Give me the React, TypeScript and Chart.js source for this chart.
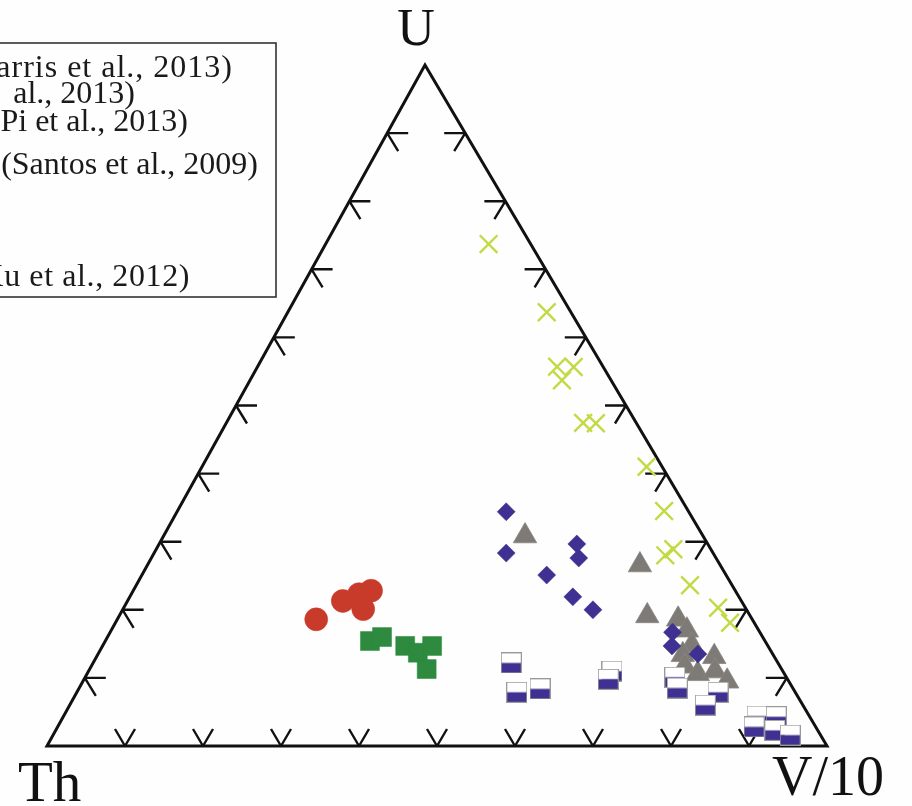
import { useEffect, useRef } from "react";
import { Chart, registerables } from "chart.js";

Chart.register(...registerables);

// Compositions as [U, Th, V/10] in percent
const crossSamples: number[][] = [
  [73.7, 5.4, 20.9], [63.7, 3.1, 33.2], [55.7, 5.9, 38.4], [55.7, 3.8, 40.6],
  [53.7, 6.3, 40.0], [47.4, 6.8, 45.7], [47.4, 5.2, 47.4], [41.0, 2.0, 57.0],
  [34.5, 3.1, 62.4], [28.0, 6.3, 65.7], [28.9, 4.8, 66.3], [23.6, 5.4, 71.0],
  [20.3, 3.5, 76.2], [18.1, 3.1, 78.8],
];

const circleSamples: number[][] = [
  [18.6, 55.9, 25.5], [21.3, 51.1, 27.6], [22.3, 48.5, 29.2], [22.8, 46.7, 30.5],
  [20.1, 49.1, 30.8],
];

const squareSamples: number[][] = [
  [15.4, 50.6, 33.9], [16.0, 48.8, 35.2], [14.7, 46.5, 38.8], [13.7, 45.4, 40.9],
  [14.7, 43.1, 42.3], [11.3, 45.5, 43.2],
];

const diamondSamples: number[][] = [
  [34.4, 23.4, 42.2], [28.3, 26.5, 45.1], [29.7, 16.8, 53.6], [27.6, 17.6, 54.8],
  [25.1, 23.0, 51.9], [21.9, 21.3, 56.8], [20.0, 19.7, 60.3], [16.7, 11.2, 72.1],
  [14.7, 12.3, 73.0], [13.5, 9.6, 76.9],
];

const triangleSamples: number[][] = [
  [30.8, 22.8, 46.3], [26.6, 10.3, 63.2], [19.1, 13.2, 67.7], [18.6, 9.5, 71.9],
  [17.0, 9.2, 73.8], [14.8, 9.7, 75.5], [13.4, 11.6, 75.1], [11.7, 12.2, 76.1],
  [10.6, 11.1, 78.3], [13.1, 7.7, 79.2], [11.0, 8.7, 80.3], [9.5, 7.9, 82.6],
];

const halfSquareSamples: number[][] = [
  [12.2, 34.2, 53.6], [11.0, 21.9, 67.1], [10.1, 14.3, 75.6], [9.8, 23.0, 67.2],
  [8.5, 14.8, 76.6], [8.4, 32.5, 59.2], [7.9, 35.7, 56.4], [7.9, 9.9, 82.2],
  [6.0, 12.5, 81.4], [4.4, 6.7, 88.9], [4.3, 4.3, 91.4], [2.8, 7.9, 89.3],
  [2.3, 5.5, 92.2], [1.6, 3.9, 94.5],
];

const vertexLabels = ["U", "Th", "V/10"];
const tickFractions = [0.1, 0.2, 0.3, 0.4, 0.5, 0.6, 0.7, 0.8, 0.9];

const legendLines = [
  "(Harris et al., 2013)",
  "al., 2013)",
  "(Pi et al., 2013)",
  "(Santos et al., 2009)",
  "(Xu et al., 2012)",
];

// Horizontal offset of the U apex along the Th–V/10 base (0..1)
const APEX_X = 0.4846;

function toXY(u: number, th: number, v: number) {
  const t = u + th + v;
  const uu = u / t;
  const vv = v / t;
  return { x: vv + uu * APEX_X, y: uu };
}

const toPoints = (rows: number[][]) => rows.map(([u, th, v]) => toXY(u, th, v));

function makeHalfSquare(): HTMLCanvasElement {
  const c = document.createElement("canvas");
  c.width = 21;
  c.height = 21;
  const g = c.getContext("2d")!;
  g.fillStyle = "#ffffff";
  g.fillRect(0.5, 0.5, 20, 10);
  g.fillStyle = "#3f3191";
  g.fillRect(0.5, 10.5, 20, 10);
  g.strokeStyle = "#9a9a9a";
  g.lineWidth = 1;
  g.strokeRect(0.5, 0.5, 20, 20);
  return c;
}

const ternaryFrame = {
  id: "ternaryFrame",
  beforeDraw(chart: any) {
    const { ctx, width, height } = chart;
    ctx.save();
    ctx.fillStyle = "#fefefe";
    ctx.fillRect(0, 0, width, height);
    ctx.restore();
  },
  beforeDatasetsDraw(chart: any) {
    const { ctx, scales } = chart;
    const px = (u: number, th: number, v: number) => {
      const p = toXY(u, th, v);
      return [scales.x.getPixelForValue(p.x), scales.y.getPixelForValue(p.y)];
    };
    const pU = px(1, 0, 0);
    const pTh = px(0, 1, 0);
    const pV = px(0, 0, 1);
    ctx.save();
    ctx.strokeStyle = "#111111";
    ctx.lineWidth = 3;
    ctx.lineJoin = "miter";
    ctx.beginPath();
    ctx.moveTo(pTh[0], pTh[1]);
    ctx.lineTo(pV[0], pV[1]);
    ctx.lineTo(pU[0], pU[1]);
    ctx.closePath();
    ctx.stroke();

    ctx.lineWidth = 2.4;
    ctx.lineCap = "butt";
    const seg = (x0: number, y0: number, x1: number, y1: number) => {
      ctx.moveTo(x0, y0);
      ctx.lineTo(x1, y1);
    };
    ctx.beginPath();
    for (const f of tickFractions) {
      // base: V/10 share
      const [bx, by] = px(0, 1 - f, f);
      seg(bx - 10, by - 17, bx, by);
      seg(bx, by, bx + 10, by - 17);
      // left side: U share along Th–U
      const [lx, ly] = px(f, 1 - f, 0);
      seg(lx + 21, ly, lx, ly);
      seg(lx, ly, lx + 11, ly + 18);
      // right side: U share along V–U
      const [rx, ry] = px(f, 0, 1 - f);
      seg(rx - 21, ry, rx, ry);
      seg(rx, ry, rx - 11, ry + 18);
    }
    ctx.stroke();

    ctx.fillStyle = "#111111";
    ctx.textBaseline = "alphabetic";
    ctx.font = "52px 'Liberation Serif', serif";
    ctx.textAlign = "center";
    ctx.fillText(vertexLabels[0], pU[0] - 9, pU[1] - 20);
    ctx.font = "57px 'Liberation Serif', serif";
    ctx.textAlign = "left";
    ctx.fillText(vertexLabels[1], pTh[0] - 29, pTh[1] + 55);
    ctx.font = "56px 'Liberation Serif', serif";
    ctx.fillText(vertexLabels[2], pV[0] - 55, pV[1] + 49);
    ctx.restore();
  },
  afterDraw(chart: any) {
    const { ctx } = chart;
    ctx.save();
    // legend frame, its left part runs past the canvas edge
    ctx.strokeStyle = "#333333";
    ctx.lineWidth = 1.6;
    ctx.strokeRect(-20, 43, 296, 254);
    ctx.fillStyle = "#1a1a1a";
    ctx.font = "32px 'Liberation Serif', serif";
    ctx.textAlign = "right";
    ctx.textBaseline = "alphabetic";
    const rightEdges = [233, 135, 188, 258, 190];
    const baselines = [77, 103, 131, 174, 286];
    const spacing = ["1px", "0px", "0px", "0px", "0.6px"];
    legendLines.forEach((t, i) => {
      ctx.letterSpacing = spacing[i];
      ctx.fillText(t, rightEdges[i], baselines[i]);
    });
    ctx.restore();
  },
};

export default function App() {
  const canvasRef = useRef<HTMLCanvasElement | null>(null);

  useEffect(() => {
    const canvas = canvasRef.current;
    if (!canvas) return;
    const halfSquare = makeHalfSquare();
    const blue = "#3f3191";

    const chart = new Chart(canvas, {
      type: "scatter",
      data: {
        datasets: [
          {
            label: "Crosses",
            data: toPoints(crossSamples),
            pointStyle: "crossRot",
            pointRadius: 12.5,
            borderColor: "#c3da44",
            backgroundColor: "#c3da44",
            pointBorderWidth: 2.4,
            order: 1,
          },
          {
            label: "Half squares",
            data: toPoints(halfSquareSamples),
            pointStyle: halfSquare as any,
            pointRadius: 10,
            order: 2,
          },
          {
            label: "Diamonds",
            data: toPoints(diamondSamples),
            pointStyle: "rectRot",
            pointRadius: 9,
            backgroundColor: blue,
            borderColor: blue,
            pointBorderWidth: 0.5,
            order: 3,
          },
          {
            label: "Triangles",
            data: toPoints(triangleSamples),
            pointStyle: "triangle",
            pointRadius: 13.5,
            backgroundColor: "#7e7a76",
            borderColor: "#8a8682",
            pointBorderWidth: 0.8,
            order: 4,
          },
          {
            label: "Squares",
            data: toPoints(squareSamples),
            pointStyle: "rect",
            pointRadius: 13.4,
            backgroundColor: "#2d8a3f",
            borderColor: "#2d8a3f",
            pointBorderWidth: 0.5,
            order: 5,
          },
          {
            label: "Circles",
            data: toPoints(circleSamples),
            pointStyle: "circle",
            pointRadius: 11.5,
            backgroundColor: "#c83b2b",
            borderColor: "#c83b2b",
            pointBorderWidth: 0.5,
            order: 6,
          },
        ],
      },
      options: {
        animation: false,
        responsive: true,
        maintainAspectRatio: false,
        layout: { padding: { left: 47, right: 85, top: 65, bottom: 60 } },
        scales: {
          x: { type: "linear", min: 0, max: 1, display: false },
          y: { type: "linear", min: 0, max: 1, display: false },
        },
        plugins: {
          legend: { display: false },
          tooltip: { enabled: false },
        },
        elements: { point: { hoverRadius: 0 } },
        datasets: { scatter: { clip: false } } as any,
      },
      plugins: [ternaryFrame],
    });
    return () => chart.destroy();
  }, []);

  return (
    <div style={{ position: "absolute", left: 0, top: 0, width: 912, height: 806 }}>
      <canvas ref={canvasRef} />
    </div>
  );
}
